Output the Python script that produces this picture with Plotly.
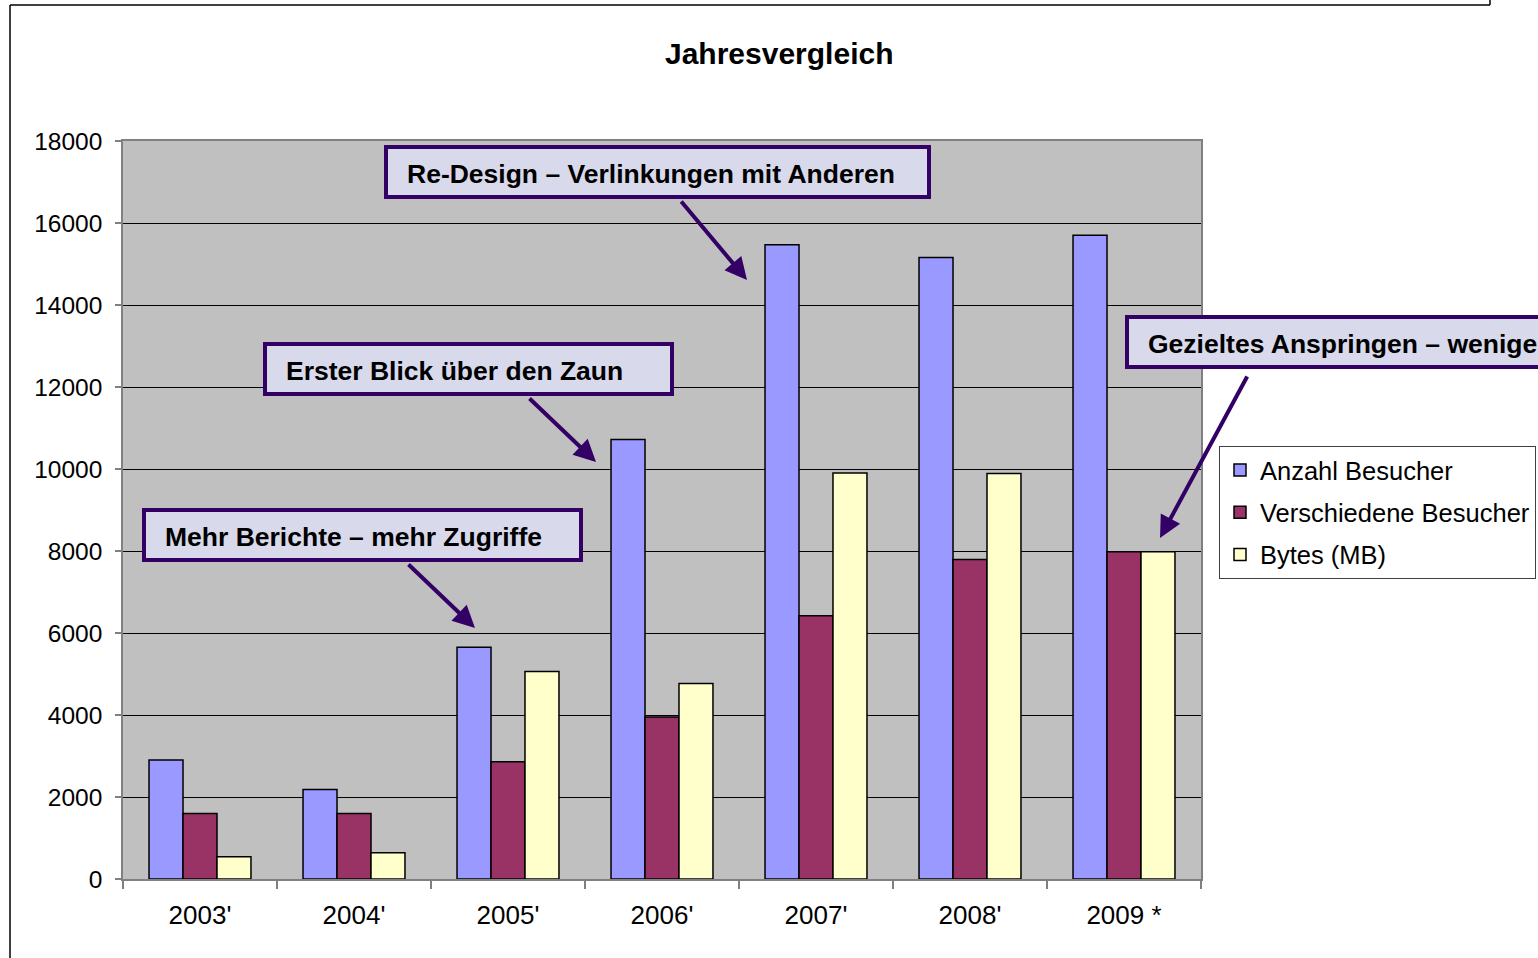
import plotly.graph_objects as go

categories = ["2003'", "2004'", "2005'", "2006'", "2007'", "2008'", "2009 *"]
anzahl_besucher = [2900, 2180, 5650, 10720, 15470, 15160, 15700]
verschiedene_besucher = [1600, 1600, 2860, 3950, 6420, 7790, 7980]
bytes_mb = [540, 640, 5060, 4770, 9900, 9890, 7980]

series_names = ["Anzahl Besucher", "Verschiedene Besucher", "Bytes (MB)"]
series_colors = ["#9999FF", "#993366", "#FFFFCC"]

callouts = [
    "Mehr Berichte – mehr Zugriffe",
    "Erster Blick über den Zaun",
    "Re-Design – Verlinkungen mit Anderen",
    "Gezieltes Anspringen – weniger",
]

FONT = "Arial, Liberation Sans, sans-serif"
W, H = 1538, 958
L, R, T, B = 123, 1201, 141, 879


def px(x):
    return (x - L) / (R - L)


def py(y):
    return (B - y) / (B - T)


fig = go.Figure()
for name, vals, col in zip(series_names, [anzahl_besucher, verschiedene_besucher, bytes_mb], series_colors):
    fig.add_trace(go.Bar(
        x=categories, y=vals, name=name, legendgroup=name,
        marker=dict(color=col, line=dict(color="black", width=1.5)),
    ))

shapes = []
annotations = []

# outer frame
shapes += [
    dict(type="line", xref="paper", yref="paper", x0=px(10), x1=px(10), y0=py(5), y1=py(980),
         line=dict(color="black", width=1.5)),
    dict(type="line", xref="paper", yref="paper", x0=px(10), x1=px(1490), y0=py(5), y1=py(5),
         line=dict(color="black", width=1.5)),
    dict(type="line", xref="paper", yref="paper", x0=px(1490), x1=px(1490), y0=py(-5), y1=py(5),
         line=dict(color="black", width=1.5)),
]

# callout boxes: (x0, x1, y0, y1, text_x, text_y)
boxes = [
    (144, 581, 510, 560, 163, 537),
    (265, 672, 344, 394, 284, 371),
    (386, 929, 147, 197, 405, 174),
    (1127, 1620, 317, 367, 1146, 344),
]
for (x0, x1, y0, y1, tx, ty), txt in zip(boxes, callouts):
    shapes.append(dict(type="rect", xref="paper", yref="paper",
                       x0=px(x0), x1=px(x1), y0=py(y0), y1=py(y1),
                       fillcolor="#D9D9EC", line=dict(color="#330066", width=4), layer="above"))
    annotations.append(dict(xref="paper", yref="paper", x=px(tx), y=py(ty), text=txt,
                            xanchor="left", yanchor="middle", showarrow=False,
                            font=dict(family=FONT, size=26.5, color="black", weight="bold")))

# arrows: head (x, y), tail offset (ax, ay)
arrows = [
    (475, 628, -68, -65),
    (596, 462, -68, -65),
    (747, 280, -67, -80),
    (1160, 538, 88, -163),
]
for hx, hy, ax, ay in arrows:
    annotations.append(dict(xref="paper", yref="paper", x=px(hx), y=py(hy), ax=ax, ay=ay,
                            text="", showarrow=True, arrowhead=2, arrowsize=1.1, arrowwidth=4,
                            arrowcolor="#330066", standoff=0, startstandoff=0))

# title
annotations.append(dict(xref="paper", yref="paper", x=px(779), y=py(53), text="Jahresvergleich",
                        xanchor="center", yanchor="middle", showarrow=False,
                        font=dict(family=FONT, size=30, color="black", weight="bold")))

fig.update_layout(
    width=W, height=H,
    margin=dict(l=L, r=W - R, t=T, b=H - B, pad=0, autoexpand=False),
    paper_bgcolor="white", plot_bgcolor="#C0C0C0",
    barmode="group", bargap=0.338, bargroupgap=0,
    font=dict(family=FONT, size=26, color="black"),
    showlegend=True,
    legend=dict(x=px(1219), y=py(446), xanchor="left", yanchor="top",
                bordercolor="#404040", borderwidth=1, bgcolor="white",
                font=dict(family=FONT, size=25.5, color="black"),
                tracegroupgap=6, traceorder="grouped", itemwidth=30),
    shapes=shapes, annotations=annotations,
)
fig.update_xaxes(type="category", tickson="boundaries", ticks="outside", ticklen=8,
                 tickcolor="#808080", tickwidth=1.5, showline=True, linecolor="#808080",
                 linewidth=1.5, mirror=True, showgrid=False, ticklabelstandoff=12,
                 tickfont=dict(family=FONT, size=26, color="black"))
fig.update_yaxes(range=[0, 18000], dtick=2000, tickformat="d", ticks="outside", ticklen=6,
                 tickcolor="#808080", tickwidth=1.5, showline=True, linecolor="#808080",
                 linewidth=1.5, mirror=True, showgrid=True, gridcolor="black", gridwidth=1,
                 zeroline=False, tickfont=dict(family=FONT, size=24.5, color="black"),
                 ticklabelstandoff=8)

fig.write_html("out.html", config={"displayModeBar": False},
               post_script="document.body.style.margin='0px';")
